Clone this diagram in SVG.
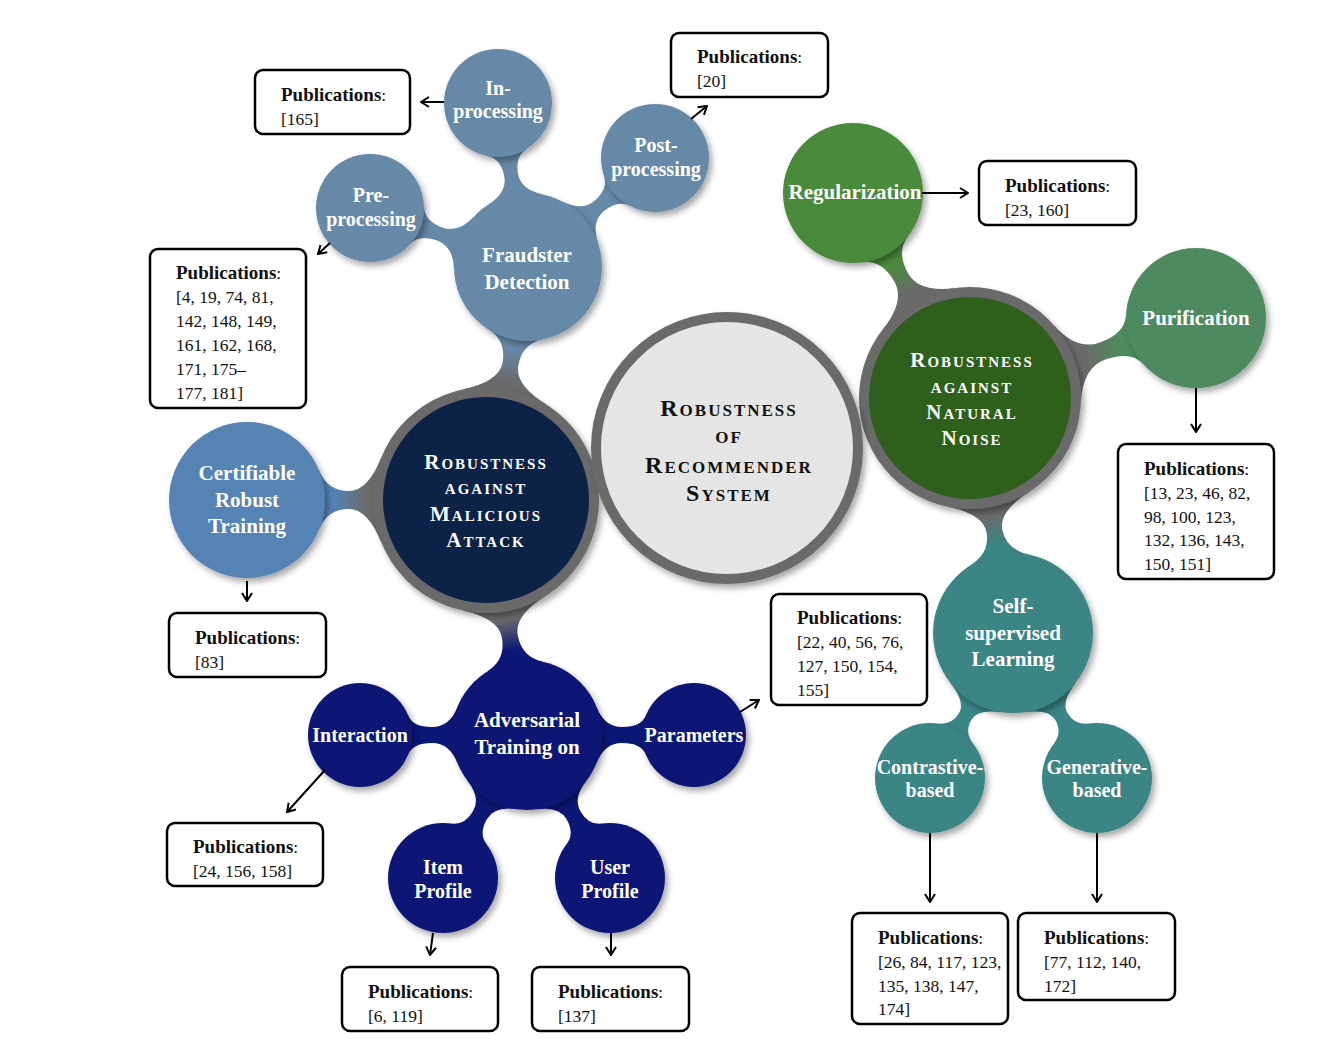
<svg xmlns="http://www.w3.org/2000/svg" width="1333" height="1047" viewBox="0 0 1333 1047">
<style>
.lbl{font-family:"Liberation Serif",serif;font-weight:bold;fill:#fff;text-anchor:middle}
.sm{font-size:20px}
.md{font-size:21px}
.sc{font-variant:small-caps;letter-spacing:2px}
.ctr{fill:#111}
.box{fill:#fff;stroke:#000;stroke-width:2.5}
.pt{font-family:"Liberation Serif",serif;font-size:17.5px;fill:#111}
.ph{font-weight:bold;font-size:19px}
.arr{stroke:#000;stroke-width:2;fill:none;marker-end:url(#ah)}
.ring{stroke:#6a6a6a;stroke-width:10}
</style>
<defs>
<filter id="sh" x="-20%" y="-20%" width="140%" height="140%">
<feDropShadow dx="3" dy="4" stdDeviation="3" flood-color="#000" flood-opacity="0.35"/>
</filter>
<marker id="ah" viewBox="0 0 12 12" refX="11" refY="6" markerWidth="12" markerHeight="12" markerUnits="userSpaceOnUse" orient="auto">
<path d="M3,1 L11,6 L3,11" fill="none" stroke="#000" stroke-width="2"/>
</marker>
<linearGradient id="gFr" x1="0" y1="0" x2="1" y2="0"><stop offset="0.25" stop-color="#6a6a6a"/><stop offset="0.75" stop-color="#6689a8"/></linearGradient>
<linearGradient id="gCe" x1="0" y1="0" x2="1" y2="0"><stop offset="0.25" stop-color="#6a6a6a"/><stop offset="0.75" stop-color="#5583b4"/></linearGradient>
<linearGradient id="gAd" x1="0" y1="0" x2="1" y2="0"><stop offset="0.25" stop-color="#6a6a6a"/><stop offset="0.75" stop-color="#0b1775"/></linearGradient>
<linearGradient id="gRe" x1="0" y1="0" x2="1" y2="0"><stop offset="0.25" stop-color="#6a6a6a"/><stop offset="0.75" stop-color="#4a8a3a"/></linearGradient>
<linearGradient id="gPu" x1="0" y1="0" x2="1" y2="0"><stop offset="0.25" stop-color="#6a6a6a"/><stop offset="0.75" stop-color="#4e8a5e"/></linearGradient>
<linearGradient id="gSe" x1="0" y1="0" x2="1" y2="0"><stop offset="0.25" stop-color="#6a6a6a"/><stop offset="0.75" stop-color="#3a8585"/></linearGradient>
</defs>
<rect width="1333" height="1047" fill="#fff"/>

<g id="links">
<path fill="url(#gFr)" transform="translate(486,500) rotate(-79.8)" d="M104.8,-42.3 Q118.7,-8 137.9,-8 Q160.2,-8 168.2,-27.7 L168.2,27.7 Q160.2,8 137.9,8 Q118.7,8 104.8,42.3Z"/>
<path fill="url(#gCe)" transform="translate(486,500) rotate(180)" d="M104.8,-42.3 Q118.3,-9 137,-9 Q158.5,-9 166.7,-29.2 L166.7,29.2 Q158.5,9 137,9 Q118.3,9 104.8,42.3Z"/>
<path fill="url(#gAd)" transform="translate(486,500) rotate(80.1)" d="M104.8,-42.3 Q118.7,-8 138.3,-8 Q160.9,-8 169,-28.1 L169,28.1 Q160.9,8 138.3,8 Q118.7,8 104.8,42.3Z"/>
<path fill="#6689a8" transform="translate(528,267) rotate(-100.4)" d="M68.6,-27.7 Q77,-7 93.4,-7 Q111.3,-7 116.6,-20.2 L116.6,20.2 Q111.3,7 93.4,7 Q77,7 68.6,27.7Z"/>
<path fill="#6689a8" transform="translate(528,267) rotate(-40.6)" d="M68.6,-27.7 Q77,-7 93.7,-7 Q112,-7 117.3,-20.2 L117.3,20.2 Q112,7 93.7,7 Q77,7 68.6,27.7Z"/>
<path fill="#6689a8" transform="translate(528,267) rotate(-159.5)" d="M68.6,-27.7 Q77,-7 94.4,-7 Q113.3,-7 118.6,-20.2 L118.6,20.2 Q113.3,7 94.4,7 Q77,7 68.6,27.7Z"/>
<path fill="url(#gRe)" transform="translate(970,398) rotate(-119.7)" d="M102.9,-41.6 Q116.5,-8 138.5,-8 Q163.7,-8 171.1,-26.2 L171.1,26.2 Q163.7,8 138.5,8 Q116.5,8 102.9,41.6Z"/>
<path fill="url(#gPu)" transform="translate(970,398) rotate(-19.5)" d="M102.9,-41.6 Q116.1,-9 140.4,-9 Q167.8,-9 174.8,-26.2 L174.8,26.2 Q167.8,9 140.4,9 Q116.1,9 102.9,41.6Z"/>
<path fill="url(#gSe)" transform="translate(970,398) rotate(79.6)" d="M102.9,-41.6 Q116.5,-8 135,-8 Q155.8,-8 164.7,-30 L164.7,30 Q155.8,8 135,8 Q116.5,8 102.9,41.6Z"/>
<path fill="#3a8585" transform="translate(1013,633) rotate(119.8)" d="M74.2,-30 Q83.5,-7 96,-7 Q110.5,-7 116,-20.6 L116,20.6 Q110.5,7 96,7 Q83.5,7 74.2,30Z"/>
<path fill="#3a8585" transform="translate(1013,633) rotate(59.9)" d="M74.2,-30 Q83.5,-7 96.3,-7 Q111.1,-7 116.6,-20.6 L116.6,20.6 Q111.1,7 96.3,7 Q83.5,7 74.2,30Z"/>
<path fill="#0b1775" transform="translate(527,735) rotate(180)" d="M69.5,-28.1 Q77.6,-8 95,-8 Q114.2,-8 118.8,-19.5 L118.8,19.5 Q114.2,8 95,8 Q77.6,8 69.5,28.1Z"/>
<path fill="#0b1775" transform="translate(527,735)" d="M69.5,-28.1 Q77.6,-8 95,-8 Q114.2,-8 118.8,-19.5 L118.8,19.5 Q114.2,8 95,8 Q77.6,8 69.5,28.1Z"/>
<path fill="#0b1775" transform="translate(527,735) rotate(120.4)" d="M69.5,-28.1 Q77.6,-8 92.9,-8 Q109.7,-8 114.8,-20.6 L114.8,20.6 Q109.7,8 92.9,8 Q77.6,8 69.5,28.1Z"/>
<path fill="#0b1775" transform="translate(527,735) rotate(59.9)" d="M69.5,-28.1 Q77.6,-8 92.65,-8 Q109.2,-8 114.3,-20.6 L114.3,20.6 Q109.2,8 92.65,8 Q77.6,8 69.5,28.1Z"/>
</g>

<g id="in-processing"><circle cx="498" cy="103" r="54" fill="#6689a8" filter="url(#sh)"/><text class="lbl sm" x="498" y="95">In-</text><text class="lbl sm" x="498" y="118">processing</text></g>
<g id="post-processing"><circle cx="655" cy="158" r="54" fill="#6689a8" filter="url(#sh)"/><text class="lbl sm" x="656" y="152">Post-</text><text class="lbl sm" x="656" y="176">processing</text></g>
<g id="pre-processing"><circle cx="370" cy="208" r="54" fill="#6689a8" filter="url(#sh)"/><text class="lbl sm" x="371" y="202">Pre-</text><text class="lbl sm" x="371" y="226">processing</text></g>
<g id="fraudster-detection"><circle cx="528" cy="267" r="74" fill="#6689a8" filter="url(#sh)"/><text class="lbl md" x="527" y="262">Fraudster</text><text class="lbl md" x="527" y="289">Detection</text></g>
<g id="certifiable"><circle cx="247" cy="500" r="78" fill="#5583b4" filter="url(#sh)"/><text class="lbl md" x="247" y="480">Certifiable</text><text class="lbl md" x="247" y="507">Robust</text><text class="lbl md" x="247" y="533">Training</text></g>
<g id="interaction"><circle cx="360" cy="735" r="52" fill="#0b1775" filter="url(#sh)"/><text class="lbl sm" x="360" y="742">Interaction</text></g>
<g id="parameters"><circle cx="694" cy="735" r="52" fill="#0b1775" filter="url(#sh)"/><text class="lbl sm" x="694" y="742">Parameters</text></g>
<g id="item-profile"><circle cx="443" cy="878" r="55" fill="#0b1775" filter="url(#sh)"/><text class="lbl sm" x="443" y="874">Item</text><text class="lbl sm" x="443" y="898">Profile</text></g>
<g id="user-profile"><circle cx="610" cy="878" r="55" fill="#0b1775" filter="url(#sh)"/><text class="lbl sm" x="610" y="874">User</text><text class="lbl sm" x="610" y="898">Profile</text></g>
<g id="adversarial"><circle cx="527" cy="735" r="75" fill="#0b1775" filter="url(#sh)"/><text class="lbl md" x="527" y="727">Adversarial</text><text class="lbl md" x="527" y="754">Training on</text></g>
<g id="regularization"><circle cx="853" cy="193" r="70" fill="#4a8a3a" filter="url(#sh)"/><text class="lbl md" x="855" y="199">Regularization</text></g>
<g id="purification"><circle cx="1196" cy="318" r="70" fill="#4e8a5e" filter="url(#sh)"/><text class="lbl md" x="1196" y="325">Purification</text></g>
<g id="contrastive"><circle cx="930" cy="778" r="55" fill="#3a8585" filter="url(#sh)"/><text class="lbl sm" x="930" y="774">Contrastive-</text><text class="lbl sm" x="930" y="797">based</text></g>
<g id="generative"><circle cx="1097" cy="778" r="55" fill="#3a8585" filter="url(#sh)"/><text class="lbl sm" x="1097" y="774">Generative-</text><text class="lbl sm" x="1097" y="797">based</text></g>
<g id="self-supervised"><circle cx="1013" cy="633" r="80" fill="#3a8585" filter="url(#sh)"/><text class="lbl md" x="1013" y="613">Self-</text><text class="lbl md" x="1013" y="640">supervised</text><text class="lbl md" x="1013" y="666">Learning</text></g>

<g id="malicious"><circle cx="486" cy="500" r="108" fill="#0e2147" class="ring" filter="url(#sh)"/>
<text class="lbl md sc" x="486" y="469">Robustness</text><text class="lbl md sc" x="486" y="494">against</text><text class="lbl md sc" x="486" y="521">Malicious</text><text class="lbl md sc" x="486" y="547">Attack</text></g>
<g id="natural"><circle cx="970" cy="398" r="106" fill="#2e611f" class="ring" filter="url(#sh)"/>
<text class="lbl md sc" x="972" y="367">Robustness</text><text class="lbl md sc" x="972" y="393">against</text><text class="lbl md sc" x="972" y="419">Natural</text><text class="lbl md sc" x="972" y="445">Noise</text></g>
<g id="center"><circle cx="727" cy="448" r="131" fill="#e5e5e5" class="ring" filter="url(#sh)"/>
<text class="lbl sc ctr" style="font-size:24px" x="729" y="416">Robustness</text><text class="lbl sc ctr" style="font-size:24px" x="729" y="443">of</text><text class="lbl sc ctr" style="font-size:24px" x="729" y="473">Recommender</text><text class="lbl sc ctr" style="font-size:24px" x="729" y="501">System</text></g>

<g id="pub-in"><rect class="box" x="255" y="70" width="155" height="64" rx="8"/><text class="pt" x="281" y="101"><tspan class="ph">Publications</tspan>:</text><text class="pt" x="281" y="125">[165]</text></g>
<g id="pub-post"><rect class="box" x="671" y="33" width="157" height="64" rx="8"/><text class="pt" x="697" y="63"><tspan class="ph">Publications</tspan>:</text><text class="pt" x="697" y="87">[20]</text></g>
<g id="pub-pre"><rect class="box" x="150" y="249" width="156" height="159" rx="8"/><text class="pt" x="176" y="279"><tspan class="ph">Publications</tspan>:</text><text class="pt" x="176" y="303">[4, 19, 74, 81,</text><text class="pt" x="176" y="327">142, 148, 149,</text><text class="pt" x="176" y="351">161, 162, 168,</text><text class="pt" x="176" y="375">171, 175–</text><text class="pt" x="176" y="399">177, 181]</text></g>
<g id="pub-reg"><rect class="box" x="979" y="161" width="157" height="64" rx="8"/><text class="pt" x="1005" y="192"><tspan class="ph">Publications</tspan>:</text><text class="pt" x="1005" y="216">[23, 160]</text></g>
<g id="pub-pur"><rect class="box" x="1118" y="444" width="156" height="135" rx="8"/><text class="pt" x="1144" y="475"><tspan class="ph">Publications</tspan>:</text><text class="pt" x="1144" y="499">[13, 23, 46, 82,</text><text class="pt" x="1144" y="523">98, 100, 123,</text><text class="pt" x="1144" y="546">132, 136, 143,</text><text class="pt" x="1144" y="570">150, 151]</text></g>
<g id="pub-cert"><rect class="box" x="169" y="613" width="157" height="64" rx="8"/><text class="pt" x="195" y="644"><tspan class="ph">Publications</tspan>:</text><text class="pt" x="195" y="668">[83]</text></g>
<g id="pub-param"><rect class="box" x="771" y="594" width="156" height="111" rx="8"/><text class="pt" x="797" y="624"><tspan class="ph">Publications</tspan>:</text><text class="pt" x="797" y="648">[22, 40, 56, 76,</text><text class="pt" x="797" y="672">127, 150, 154,</text><text class="pt" x="797" y="696">155]</text></g>
<g id="pub-inter"><rect class="box" x="167" y="823" width="156" height="63" rx="8"/><text class="pt" x="193" y="853"><tspan class="ph">Publications</tspan>:</text><text class="pt" x="193" y="877">[24, 156, 158]</text></g>
<g id="pub-item"><rect class="box" x="342" y="967" width="156" height="64" rx="8"/><text class="pt" x="368" y="998"><tspan class="ph">Publications</tspan>:</text><text class="pt" x="368" y="1022">[6, 119]</text></g>
<g id="pub-user"><rect class="box" x="532" y="967" width="157" height="64" rx="8"/><text class="pt" x="558" y="998"><tspan class="ph">Publications</tspan>:</text><text class="pt" x="558" y="1022">[137]</text></g>
<g id="pub-con"><rect class="box" x="852" y="913" width="156" height="111" rx="8"/><text class="pt" x="878" y="944"><tspan class="ph">Publications</tspan>:</text><text class="pt" x="878" y="968">[26, 84, 117, 123,</text><text class="pt" x="878" y="992">135, 138, 147,</text><text class="pt" x="878" y="1015">174]</text></g>
<g id="pub-gen"><rect class="box" x="1018" y="913" width="157" height="87" rx="8"/><text class="pt" x="1044" y="944"><tspan class="ph">Publications</tspan>:</text><text class="pt" x="1044" y="968">[77, 112, 140,</text><text class="pt" x="1044" y="992">172]</text></g>

<g id="arrows">
<line class="arr" x1="444" y1="102" x2="421" y2="102"/>
<line class="arr" x1="691" y1="119" x2="707" y2="106"/>
<line class="arr" x1="330" y1="243" x2="318" y2="254"/>
<line class="arr" x1="922" y1="193" x2="968" y2="193"/>
<line class="arr" x1="1196" y1="388" x2="1196" y2="432"/>
<line class="arr" x1="247" y1="581" x2="247" y2="601"/>
<line class="arr" x1="740" y1="712" x2="759" y2="700"/>
<line class="arr" x1="325" y1="770" x2="287" y2="812"/>
<line class="arr" x1="433" y1="933" x2="430" y2="955"/>
<line class="arr" x1="611" y1="933" x2="611" y2="955"/>
<line class="arr" x1="930" y1="833" x2="930" y2="902"/>
<line class="arr" x1="1097" y1="833" x2="1097" y2="902"/>
</g>
</svg>
